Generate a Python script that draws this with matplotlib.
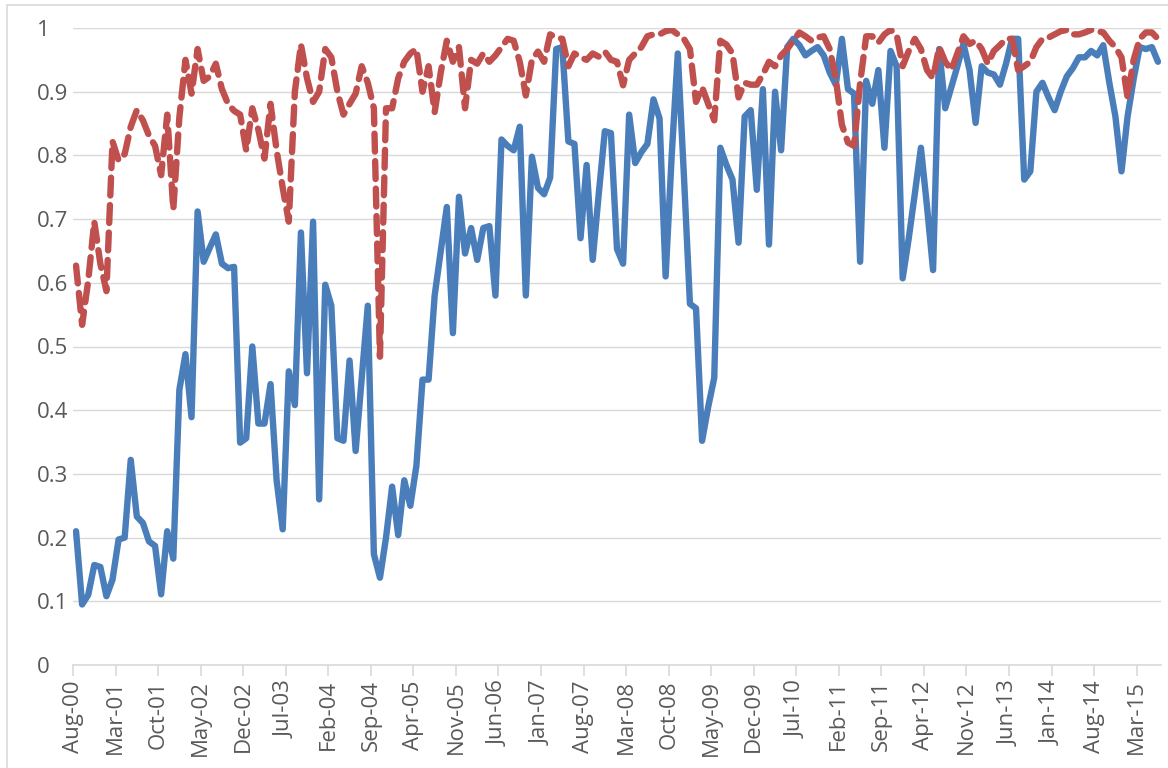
import numpy as np
import pandas as pd
import matplotlib
matplotlib.use('Agg')
import matplotlib.pyplot as plt
from matplotlib.patches import Rectangle

plt.rcParams['font.family'] = ['Open Sans', 'DejaVu Sans']

# monthly series, Aug-00 .. Jun-15 (179 months)
months = pd.date_range('2000-08-01', periods=179, freq='MS')

blue_vals = [
    0.21, 0.095, 0.11, 0.157, 0.154, 0.108, 0.134, 0.197, 0.20, 0.322,
    0.233, 0.223, 0.194, 0.187, 0.111, 0.21, 0.167, 0.432, 0.488, 0.389,
    0.712, 0.633, 0.655, 0.676, 0.63, 0.623, 0.625, 0.349, 0.356, 0.50,
    0.379, 0.379, 0.441, 0.29, 0.213, 0.461, 0.408, 0.679, 0.458, 0.696,
    0.26, 0.597, 0.564, 0.356, 0.352, 0.478, 0.336, 0.451, 0.564, 0.174,
    0.137, 0.20, 0.28, 0.204, 0.29, 0.25, 0.313, 0.448, 0.448, 0.58,
    0.65, 0.719, 0.521, 0.735, 0.646, 0.686, 0.636, 0.686, 0.689, 0.58,
    0.825, 0.815, 0.808, 0.845, 0.58, 0.798, 0.749, 0.739, 0.765, 0.967,
    0.97, 0.822, 0.818, 0.67, 0.785, 0.636, 0.74, 0.838, 0.835, 0.653,
    0.63, 0.864, 0.788, 0.805, 0.818, 0.888, 0.858, 0.61, 0.80, 0.96,
    0.77, 0.567, 0.56, 0.352, 0.405, 0.451, 0.812, 0.785, 0.762, 0.663,
    0.861, 0.871, 0.746, 0.904, 0.66, 0.90, 0.808, 0.97, 0.983, 0.973,
    0.957, 0.964, 0.97, 0.957, 0.93, 0.911, 0.983, 0.904, 0.897, 0.633,
    0.917, 0.881, 0.934, 0.812, 0.964, 0.94, 0.607, 0.67, 0.74, 0.812,
    0.72, 0.62, 0.967, 0.874, 0.907, 0.94, 0.975, 0.934, 0.851, 0.94,
    0.93, 0.927, 0.911, 0.944, 0.983, 0.983, 0.762, 0.775, 0.90, 0.914,
    0.891, 0.871, 0.90, 0.924, 0.937, 0.954, 0.954, 0.964, 0.957, 0.973,
    0.914, 0.861, 0.775, 0.861, 0.92, 0.97, 0.967, 0.97, 0.947,
]

red_vals = [
    0.627, 0.534, 0.603, 0.696, 0.63, 0.587, 0.822, 0.792, 0.802, 0.845,
    0.871, 0.855, 0.831, 0.815, 0.769, 0.864, 0.715, 0.86, 0.95, 0.897,
    0.967, 0.917, 0.924, 0.944, 0.904, 0.881, 0.870, 0.864, 0.808, 0.874,
    0.84, 0.795, 0.881, 0.808, 0.749, 0.696, 0.90, 0.974, 0.921, 0.884,
    0.90, 0.967, 0.954, 0.90, 0.864, 0.881, 0.897, 0.94, 0.914, 0.874,
    0.484, 0.874, 0.874, 0.921, 0.947, 0.96, 0.967, 0.90, 0.94, 0.868,
    0.93, 0.98, 0.947, 0.97, 0.874, 0.95, 0.944, 0.96, 0.947, 0.957,
    0.97, 0.983, 0.98, 0.947, 0.894, 0.95, 0.963, 0.947, 0.99, 0.985,
    0.983, 0.94, 0.96, 0.954, 0.95, 0.96, 0.955, 0.963, 0.95, 0.947,
    0.91, 0.95, 0.96, 0.97, 0.987, 0.99, 0.99, 0.995, 0.997, 0.99,
    0.983, 0.967, 0.884, 0.907, 0.881, 0.855, 0.98, 0.974, 0.96, 0.891,
    0.914, 0.911, 0.911, 0.927, 0.947, 0.94, 0.957, 0.967, 0.98, 0.993,
    0.987, 0.98, 0.985, 0.987, 0.967, 0.92, 0.848, 0.82, 0.815, 0.914,
    0.987, 0.987, 0.977, 0.99, 0.997, 0.99, 0.94, 0.964, 0.983, 0.967,
    0.934, 0.921, 0.97, 0.947, 0.934, 0.96, 0.987, 0.975, 0.98, 0.967,
    0.944, 0.964, 0.973, 0.983, 0.983, 0.934, 0.94, 0.947, 0.97, 0.983,
    0.985, 0.99, 0.995, 0.997, 0.99, 0.99, 0.993, 0.997, 0.995, 0.993,
    0.98, 0.97, 0.954, 0.891, 0.95, 0.983, 0.993, 0.993, 0.983,
]

y_ticks = [0, 0.1, 0.2, 0.3, 0.4, 0.5, 0.6, 0.7, 0.8, 0.9, 1]
y_labels = ['0', '0.1', '0.2', '0.3', '0.4', '0.5', '0.6', '0.7', '0.8', '0.9', '1']
label_every = 7

BLUE = '#4a7ebb'
RED = '#c0504d'
GRID = '#d9d9d9'
TXT = '#595959'

n = len(months)
x = np.arange(n) + 0.5  # points sit between tick marks

fig = plt.figure(figsize=(11.68, 7.68), dpi=100)
ax = fig.add_axes([73 / 1168, 1 - 665 / 768, (1161 - 73) / 1168, (665 - 28) / 768])

# outer chart border (only top/left visible)
fig.patches.append(Rectangle((7 / 1168, -0.1), 1.2, 1 - 5 / 768 + 0.1,
                             transform=fig.transFigure, fill=False,
                             edgecolor=GRID, linewidth=1.2))

ax.plot(x, blue_vals, color=BLUE, lw=4.6, solid_joinstyle='round',
        solid_capstyle='round', zorder=3)
ax.plot(x, red_vals, color=RED, lw=4.6, linestyle=(0, (2.8, 1.5)),
        dash_capstyle='round', dash_joinstyle='round', zorder=4)

ax.set_xlim(0, n)
ax.set_ylim(0, 1)
ax.set_yticks(y_ticks)
ax.set_yticklabels(y_labels, ha='left')
ax.yaxis.grid(True, color=GRID, lw=1.0)
ax.set_axisbelow(True)

tick_pos = np.arange(0, n, label_every)
ax.set_xticks(tick_pos)
ax.set_xticklabels([months[i].strftime('%b-%y') for i in tick_pos], rotation=90)

for s in ['top', 'right', 'left']:
    ax.spines[s].set_visible(False)
ax.spines['bottom'].set_color(GRID)
ax.spines['bottom'].set_linewidth(1.2)
ax.tick_params(axis='x', direction='out', length=8, color=GRID, width=1.2,
               labelsize=16, labelcolor=TXT, pad=3)
ax.tick_params(axis='y', length=0, labelsize=16, labelcolor=TXT, pad=26)

fig.savefig('out.png', dpi=100)
